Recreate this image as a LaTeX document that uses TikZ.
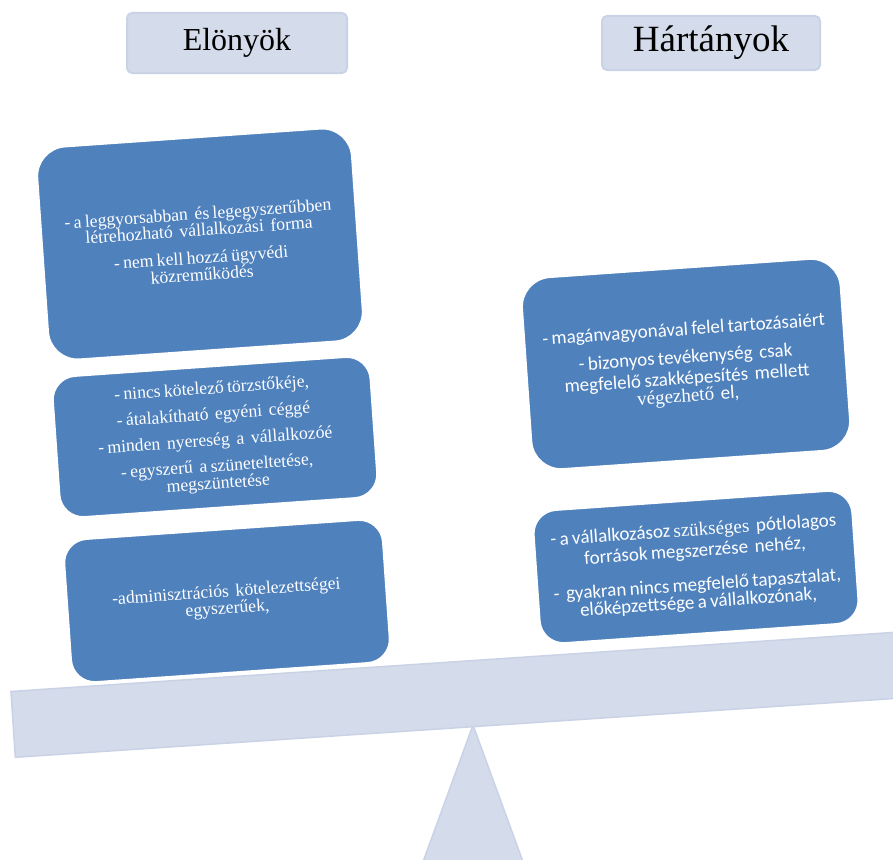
\documentclass[tikz,border=0pt]{standalone}
\usepackage{fontspec}
\setmainfont{Liberation Serif}
\newfontfamily\timesfont{Liberation Serif}
\newfontfamily\calibri{Carlito}
\usetikzlibrary{positioning}
\definecolor{boxblue}{HTML}{4F81BD}
\definecolor{scalefill}{HTML}{D4DBEA}
\definecolor{scaleline}{HTML}{CAD3E6}

\begin{document}
\begin{tikzpicture}[x=1pt, y=-1pt,
    titlebox/.style={rectangle, rounded corners=5pt, fill=scalefill, draw=scaleline, line width=2pt, inner sep=0pt, font=\timesfont},
    itembox/.style={rectangle, fill=boxblue, draw=white, line width=2.5pt, text=white, align=center, inner sep=0pt, rotate=4}]
	\clip (0,0) rectangle (893,859);

	% the scale: fulcrum and beam
	\coordinate (apex) at (473,725);
	\draw[fill=scalefill, draw=scaleline, line width=1.5pt] (420,870) -- (apex) -- (526,870) -- cycle;
	\node[rectangle, fill=scalefill, draw=scaleline, line width=1.5pt, inner sep=0pt,
	      minimum width=1000pt, minimum height=66pt, rotate=3.83] (beam) at (512,691) {};

	% headings
	\node[titlebox, minimum width=220pt, minimum height=60pt] (elony) at (237,43) {\fontsize{32}{36}\selectfont Elönyök};
	\node[titlebox, minimum width=218pt, minimum height=54pt] (hatrany) at (711,43) {\fontsize{37}{40}\selectfont Hártányok};

	\begin{scope}[every node/.style={itembox, text width=310pt}]
		\node[rounded corners=30pt, minimum width=316pt, minimum height=214pt] (e1) at (200,244)
			{\timesfont\fontsize{17.7}{16.5}\selectfont
			 - a leggyorsabban\ \ és legegyszerűbben\\ létrehozható\ \ vállalkozási\ \ forma\\[11pt]
			 - nem kell hozzá ügyvédi\\ közreműködés};
		\node[rounded corners=24pt, minimum width=319pt, minimum height=142pt] (e2) at (215,437)
			{\timesfont\fontsize{17.7}{21}\selectfont
			 - nincs kötelező törzstőkéje,\\[5pt] - átalakítható\ \ egyéni\ \ céggé\\[5pt]
			 - minden\ \ nyereség\ \ a\ \ vállalkozóé\\[5pt] - egyszerű\ \ a szüneteltetése,\\ megszüntetése};
		\node[rounded corners=24pt, minimum width=320pt, minimum height=144pt] (e3) at (227,601)
			{\timesfont\fontsize{17.7}{18.5}\selectfont
			 -adminisztrációs\ \ kötelezettségei\\ egyszerűek,};
	\end{scope}

	\begin{scope}[every node/.style={itembox, text width=320pt}]
		\node[rounded corners=30pt, minimum width=316pt, minimum height=193pt] (h1) at (686,364)
			{\calibri\fontsize{19}{21}\selectfont
			 - magánvagyonával felel tartozásaiért\\[7pt]
			 - bizonyos tevékenység\ \ csak\\ megfelelő szakképesítés\ \ mellett\\ {\timesfont végezhető}\ \ el,};
		\node[rounded corners=24pt, minimum width=316pt, minimum height=134pt] (h2) at (696,567)
			{\calibri\fontsize{19}{21}\selectfont
			 - a vállalkozásoz {\timesfont szükséges}\ \ pótlolagos\\ források megszerzése\ \ nehéz,\\[13pt]
			 -\ \ gyakran nincs megfelelő tapasztalat,\\ előképzettsége a vállalkozónak,};
	\end{scope}
\end{tikzpicture}
\end{document}
